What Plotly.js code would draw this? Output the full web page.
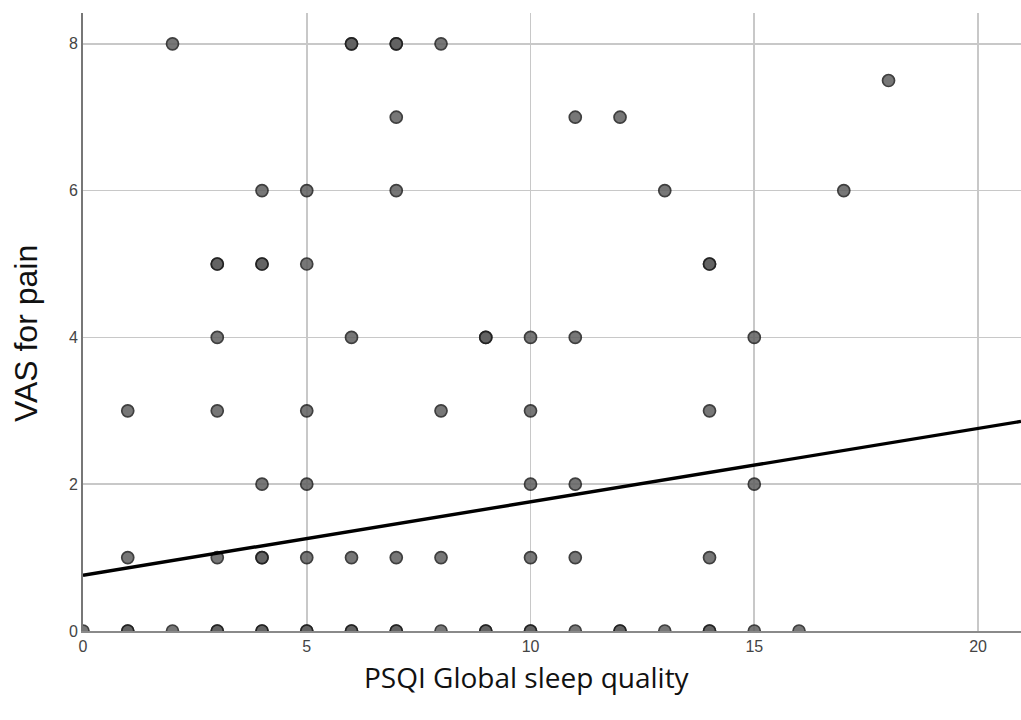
<!DOCTYPE html>
<html>
<head>
<meta charset="utf-8">
<script src="https://cdn.plot.ly/plotly-3.0.1.min.js"></script>
<style>html,body{margin:0;padding:0;background:#fff;}#chart{width:1021px;height:720px;}</style>
</head>
<body>
<div id="chart"></div>
<script>
// PSQI global sleep quality (x) and VAS for pain (y), one entry per observation
const psqi = [
  2, 6, 6, 7, 7, 8,
  18,
  7, 11, 12,
  4, 5, 7, 13, 17,
  3, 3, 4, 4, 5, 14, 14,
  3, 6, 9, 9, 10, 11, 15,
  1, 3, 5, 8, 10, 14,
  4, 5, 10, 11, 15,
  1, 3, 4, 4, 5, 6, 7, 8, 10, 11, 14,
  0, 1, 1, 2, 3, 3, 4, 4, 5, 5, 6, 6, 7, 7, 8, 9, 9, 10, 10, 11, 12, 12, 13, 14, 14, 15, 16
];
const vas = [
  8, 8, 8, 8, 8, 8,
  7.5,
  7, 7, 7,
  6, 6, 6, 6, 6,
  5, 5, 5, 5, 5, 5, 5,
  4, 4, 4, 4, 4, 4, 4,
  3, 3, 3, 3, 3, 3,
  2, 2, 2, 2, 2,
  1, 1, 1, 1, 1, 1, 1, 1, 1, 1, 1,
  0, 0, 0, 0, 0, 0, 0, 0, 0, 0, 0, 0, 0, 0, 0, 0, 0, 0, 0, 0, 0, 0, 0, 0, 0, 0, 0
];
// Fit line (VAS = intercept + slope * PSQI)
const fitIntercept = 0.76;
const fitSlope = 0.10;
const xTicks = [0, 5, 10, 15, 20];
const yTicks = [0, 2, 4, 6, 8];
const xTitle = 'PSQI Global sleep quality';
const yTitle = 'VAS for pain';

const xRange = [0, 20.96];
const yRange = [0, 8.42];

const fitX = [xRange[0], xRange[1]];
const fitY = fitX.map(v => fitIntercept + fitSlope * v);

const traces = [
  {
    type: 'scatter', mode: 'markers', x: psqi, y: vas,
    marker: {size: 12, color: '#606060', opacity: 0.85, line: {color: '#1e1e1e', width: 1.7}},
    hoverinfo: 'x+y', showlegend: false
  },
  {
    type: 'scatter', mode: 'lines', x: fitX, y: fitY,
    line: {color: '#000000', width: 3.4}, showlegend: false, hoverinfo: 'skip'
  }
];

const layout = {
  width: 1021, height: 720,
  margin: {l: 83, r: 0, t: 13, b: 89, pad: 0},
  paper_bgcolor: '#ffffff', plot_bgcolor: '#ffffff',
  showlegend: false,
  xaxis: {
    range: xRange, tickvals: xTicks, ticktext: xTicks.map(String),
    showgrid: true, gridcolor: '#c8c8c8', gridwidth: 1.6,
    zeroline: false, showline: true, linecolor: '#8a8a8a', linewidth: 2,
    ticks: '', ticklen: 0,
    tickfont: {family: 'Liberation Sans, Arial, sans-serif', size: 16, color: '#444444'}
  },
  yaxis: {
    range: yRange, tickvals: yTicks, ticktext: yTicks.map(String),
    showgrid: true, gridcolor: '#c8c8c8', gridwidth: 1.6,
    zeroline: false, showline: true, linecolor: '#777777', linewidth: 2,
    ticks: '', ticklen: 0,
    tickfont: {family: 'Liberation Sans, Arial, sans-serif', size: 16, color: '#444444'}
  },
  annotations: [
    {
      text: xTitle, xref: 'paper', yref: 'paper', x: 0.473, y: -0.075,
      xanchor: 'center', yanchor: 'middle', showarrow: false,
      font: {family: 'Open Sans, sans-serif', size: 28, color: '#111111'}
    },
    {
      text: yTitle, xref: 'paper', yref: 'paper', x: -0.0608, y: 0.482,
      xanchor: 'center', yanchor: 'middle', showarrow: false, textangle: -90,
      font: {family: 'Liberation Sans, Arial, sans-serif', size: 32, color: '#111111'}
    }
  ]
};

Plotly.newPlot('chart', traces, layout, {staticPlot: true, displayModeBar: false});
</script>
</body>
</html>
